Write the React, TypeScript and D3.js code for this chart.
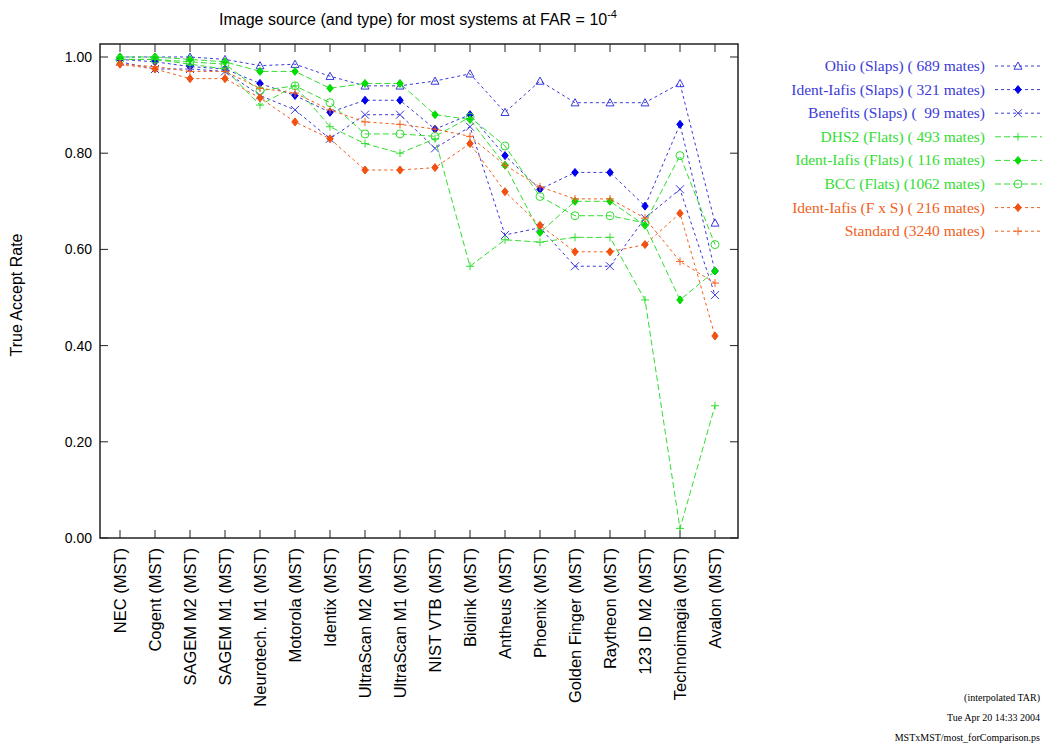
import React from "react";
import * as d3 from "d3";

const categories = [
  "NEC (MST)", "Cogent (MST)", "SAGEM M2 (MST)", "SAGEM M1 (MST)", "Neurotech. M1 (MST)",
  "Motorola (MST)", "Identix (MST)", "UltraScan M2 (MST)", "UltraScan M1 (MST)", "NIST VTB (MST)",
  "Biolink (MST)", "Antheus (MST)", "Phoenix (MST)", "Golden Finger (MST)", "Raytheon (MST)",
  "123 ID M2 (MST)", "Technoimagia (MST)", "Avalon (MST)",
];

const ohio = [1.0, 1.0, 1.0, 0.995, 0.982, 0.985, 0.96, 0.94, 0.94, 0.95, 0.965, 0.885, 0.95, 0.905, 0.905, 0.905, 0.945, 0.655];
const iafisSlaps = [0.995, 0.99, 0.98, 0.975, 0.945, 0.92, 0.885, 0.91, 0.91, 0.85, 0.88, 0.795, 0.725, 0.76, 0.76, 0.69, 0.86, 0.555];
const benefits = [0.99, 0.975, 0.975, 0.97, 0.92, 0.89, 0.83, 0.88, 0.88, 0.81, 0.855, 0.63, 0.645, 0.565, 0.565, 0.665, 0.725, 0.505];
const dhs2 = [0.995, 0.995, 0.985, 0.975, 0.9, 0.94, 0.855, 0.82, 0.8, 0.83, 0.565, 0.62, 0.615, 0.625, 0.625, 0.495, 0.02, 0.275];
const iafisFlats = [1.0, 1.0, 0.995, 0.99, 0.97, 0.97, 0.935, 0.945, 0.945, 0.88, 0.87, 0.775, 0.635, 0.7, 0.7, 0.65, 0.495, 0.555];
const bcc = [0.995, 0.995, 0.99, 0.985, 0.93, 0.94, 0.905, 0.84, 0.84, 0.835, 0.875, 0.815, 0.71, 0.67, 0.67, 0.655, 0.795, 0.61];
const iafisFxS = [0.985, 0.975, 0.955, 0.955, 0.915, 0.865, 0.83, 0.765, 0.765, 0.77, 0.82, 0.72, 0.65, 0.595, 0.595, 0.61, 0.675, 0.42];
const standard = [0.985, 0.98, 0.97, 0.97, 0.935, 0.925, 0.89, 0.865, 0.86, 0.85, 0.835, 0.775, 0.73, 0.705, 0.705, 0.665, 0.575, 0.53];

const yTicks = [0, 0.2, 0.4, 0.6, 0.8, 1.0];

const BLUE = "#3a3ad8";
const GREEN = "#33dd33";
const ORANGE = "#f0601c";

type Marker = "tri" | "diamond" | "x" | "plus" | "circle";
const series: { label: string; values: number[]; color: string; mcolor: string; marker: Marker; dash: string }[] = [
  { label: "Ohio (Slaps) ( 689 mates)", values: ohio, color: BLUE, mcolor: BLUE, marker: "tri", dash: "3,3" },
  { label: "Ident-Iafis (Slaps) ( 321 mates)", values: iafisSlaps, color: BLUE, mcolor: "#0000ee", marker: "diamond", dash: "3,3" },
  { label: "Benefits (Slaps) (  99 mates)", values: benefits, color: BLUE, mcolor: BLUE, marker: "x", dash: "3,3" },
  { label: "DHS2 (Flats) ( 493 mates)", values: dhs2, color: GREEN, mcolor: GREEN, marker: "plus", dash: "6,3" },
  { label: "Ident-Iafis (Flats) ( 116 mates)", values: iafisFlats, color: GREEN, mcolor: "#00dd00", marker: "diamond", dash: "6,3" },
  { label: "BCC (Flats) (1062 mates)", values: bcc, color: GREEN, mcolor: GREEN, marker: "circle", dash: "6,3" },
  { label: "Ident-Iafis (F x S) ( 216 mates)", values: iafisFxS, color: ORANGE, mcolor: "#f05010", marker: "diamond", dash: "3,3" },
  { label: "Standard (3240 mates)", values: standard, color: ORANGE, mcolor: ORANGE, marker: "plus", dash: "3,3" },
];

function MarkerShape({ kind, x, y, color }: { kind: Marker; x: number; y: number; color: string }) {
  const s = 4;
  switch (kind) {
    case "tri":
      return <path d={`M${x},${y - s}L${x + s},${y + s * 0.8}L${x - s},${y + s * 0.8}Z`} fill="none" stroke={color} strokeWidth={1} />;
    case "diamond":
      return <path d={`M${x},${y - s}L${x + s * 0.8},${y}L${x},${y + s}L${x - s * 0.8},${y}Z`} fill={color} stroke={color} />;
    case "x":
      return <path d={`M${x - s},${y - s}L${x + s},${y + s}M${x - s},${y + s}L${x + s},${y - s}`} stroke={color} strokeWidth={1} />;
    case "plus":
      return <path d={`M${x - s},${y}L${x + s},${y}M${x},${y - s}L${x},${y + s}`} stroke={color} strokeWidth={1} />;
    case "circle":
      return <circle cx={x} cy={y} r={s} fill="none" stroke={color} strokeWidth={1} />;
  }
}

export default function App() {
  const W = 1045, H = 744;
  const left = 100, right = 738, top = 44, bottom = 538;
  const x = d3.scalePoint<string>().domain(categories).range([120, 715]);
  const y = d3.scaleLinear().domain([0, 1.027]).range([bottom, top]);
  const line = d3.line<number>().x((_, i) => x(categories[i])!).y((v) => y(v));

  return (
    <svg width={W} height={H} style={{ position: "absolute", left: 0, top: 0, fontFamily: "Liberation Sans, Arial, sans-serif" }}>
      <rect width={W} height={H} fill="white" />
      <text x={418} y={25} textAnchor="middle" fontSize={16}>
        Image source (and type) for most systems at FAR = 10
        <tspan dy={-7} fontSize={11}>-4</tspan>
      </text>
      <rect x={left} y={top} width={right - left} height={bottom - top} fill="none" stroke="#222" strokeWidth={1.5} />
      {yTicks.map((t) => (
        <g key={t}>
          <line x1={left} x2={left + 8} y1={y(t)} y2={y(t)} stroke="#222" />
          <line x1={right - 8} x2={right} y1={y(t)} y2={y(t)} stroke="#222" />
          <text x={left - 8} y={y(t) + 5} textAnchor="end" fontSize={14}>{t.toFixed(2)}</text>
        </g>
      ))}
      {categories.map((c) => (
        <g key={c}>
          <line x1={x(c)} x2={x(c)} y1={bottom} y2={bottom - 8} stroke="#222" />
          <line x1={x(c)} x2={x(c)} y1={top} y2={top + 8} stroke="#222" />
          <text transform={`translate(${x(c)! + 6},${bottom + 10}) rotate(-90)`} textAnchor="end" fontSize={16.5}>{c}</text>
        </g>
      ))}
      <text transform="translate(22,295) rotate(-90)" textAnchor="middle" fontSize={16}>True Accept Rate</text>
      {series.map((s) => (
        <g key={s.label}>
          <path d={line(s.values)!} fill="none" stroke={s.color} strokeWidth={1} strokeDasharray={s.dash} />
          {s.values.map((v, i) => (
            <MarkerShape key={i} kind={s.marker} x={x(categories[i])!} y={y(v)} color={s.mcolor} />
          ))}
        </g>
      ))}
      {series.map((s, i) => {
        const ly = 66 + i * 23.6;
        return (
          <g key={s.label} fontFamily="Liberation Serif, Times New Roman, serif">
            <text x={985} y={ly + 5} textAnchor="end" fontSize={15.5} fill={s.color} style={{ whiteSpace: "pre" }}>{s.label}</text>
            <line x1={995} x2={1042} y1={ly} y2={ly} stroke={s.color} strokeDasharray={s.dash} />
            <MarkerShape kind={s.marker} x={1018} y={ly} color={s.mcolor} />
          </g>
        );
      })}
      <g fontFamily="Liberation Serif, Times New Roman, serif" fontSize={10} textAnchor="end">
        <text x={1040} y={701}>(interpolated TAR)</text>
        <text x={1040} y={721}>Tue Apr 20 14:33 2004</text>
        <text x={1040} y={741}>MSTxMST/most_forComparison.ps</text>
      </g>
    </svg>
  );
}
